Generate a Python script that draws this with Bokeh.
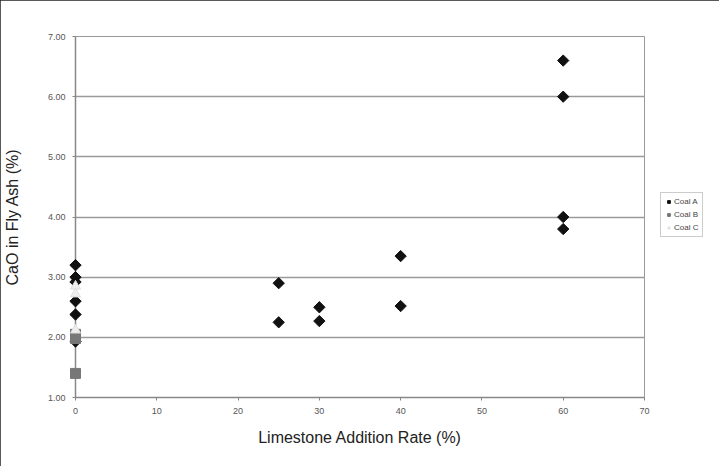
import math
from bokeh.plotting import figure
from bokeh.models import Range1d, SingleIntervalTicker, NumeralTickFormatter, Legend, LegendItem
from bokeh.embed import file_html
from bokeh.resources import INLINE

# Coal A (black diamonds)
coal_a_x = [0, 0, 0, 0, 0, 0, 25, 25, 30, 30, 40, 40, 60, 60, 60, 60]
coal_a_y = [3.20, 3.00, 2.92, 2.60, 2.38, 1.93, 2.90, 2.25, 2.50, 2.27, 3.35, 2.52, 6.60, 6.00, 4.00, 3.80]
# Coal B (grey squares)
coal_b_x = [0, 0, 0]
coal_b_y = [2.05, 1.98, 1.40]
# Coal C (very light triangles)
coal_c_x = [0, 0, 0]
coal_c_y = [2.85, 2.72, 2.12]

x_title = "Limestone Addition Rate (%)"
y_title = "CaO in Fly Ash (%)"

p = figure(frame_width=569, frame_height=361, output_backend="svg", toolbar_location=None,
           x_range=Range1d(0, 70), y_range=Range1d(1, 7),
           min_border_left=75, min_border_right=75, min_border_top=36, min_border_bottom=69)
p.styles = {"outline": "2px solid #222222", "outline-offset": "-2px"}

p.outline_line_color = "#999999"
p.background_fill_color = "white"
p.border_fill_color = "white"

p.xgrid.grid_line_color = None
p.ygrid.grid_line_color = "#9a9a9a"
p.ygrid.grid_line_width = 1.5

for ax in (p.xaxis, p.yaxis):
    ax.axis_line_color = "#888888"
    ax.axis_line_width = 1.5
    ax.major_tick_line_color = "#888888"
    ax.major_tick_in = 0
    ax.major_tick_out = 3
    ax.minor_tick_line_color = None
    ax.major_label_text_font = "Liberation Sans"
    ax.major_label_text_font_size = "9px"
    ax.major_label_text_color = "#555555"
    ax.axis_label_text_font = "Liberation Sans"
    ax.axis_label_text_font_size = "16px"
    ax.axis_label_text_font_style = "normal"
    ax.axis_label_text_color = "#222222"

p.xaxis.ticker = SingleIntervalTicker(interval=10)
p.yaxis.ticker = SingleIntervalTicker(interval=1)
p.yaxis.formatter = NumeralTickFormatter(format="0.00")
p.xaxis.axis_label = x_title
p.yaxis.axis_label = y_title
p.xaxis.major_label_standoff = 6
p.yaxis.major_label_standoff = 6
p.xaxis.axis_label_standoff = 12
p.yaxis.axis_label_standoff = 24

ra = p.scatter(coal_a_x, coal_a_y, marker="square", angle=math.pi / 4, size=8,
               fill_color="#111111", line_color="#111111")
rb = p.scatter(coal_b_x, coal_b_y, marker="square", size=10, fill_color="#777777", line_color="#777777")
rc = p.scatter(coal_c_x, coal_c_y, marker="triangle", size=10, fill_color="#eeeeee", line_color="#dddddd")
for r in (ra, rb, rc):
    r.level = "overlay"

legend = Legend(items=[LegendItem(label="Coal A", renderers=[ra]),
                       LegendItem(label="Coal B", renderers=[rb]),
                       LegendItem(label="Coal C", renderers=[rc])],
                location=(16, 160))
legend.label_text_font = "Liberation Sans"
legend.label_text_font_size = "8px"
legend.label_text_color = "#444444"
legend.glyph_width = 7
legend.glyph_height = 7
legend.label_standoff = 2
legend.spacing = 4
legend.padding = 4
legend.margin = 0
legend.label_height = 9
legend.border_line_color = "#999999"
legend.background_fill_alpha = 1
p.add_layout(legend, "right")

open("out.html", "w").write(file_html(p, INLINE))
